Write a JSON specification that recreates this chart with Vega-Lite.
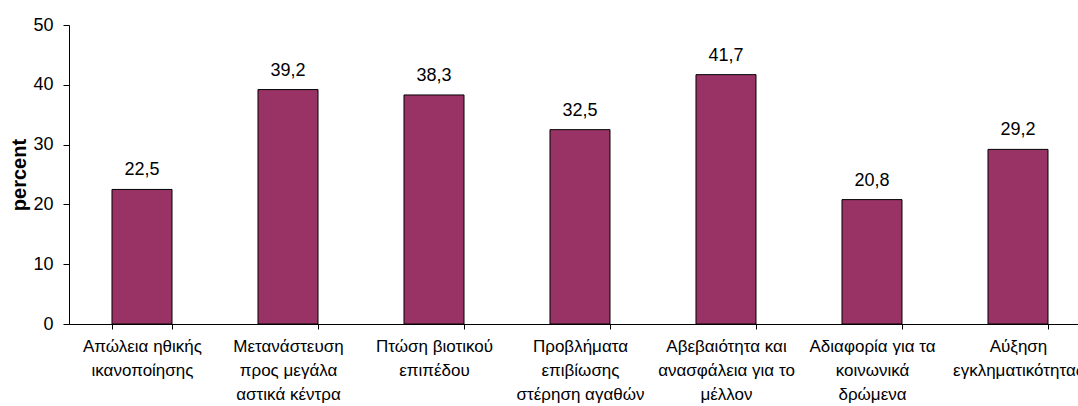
{
  "$schema": "https://vega.github.io/schema/vega-lite/v6.json",
  "autosize": "none",
  "width": 1009,
  "height": 299,
  "padding": {"left": 69, "top": 25, "right": 0, "bottom": 82},
  "background": "white",
  "config": {
    "view": {"stroke": null},
    "font": "Liberation Sans",
    "locale": {"number": {"decimal": ",", "thousands": ".", "grouping": [3], "currency": ["", " €"]}}
  },
  "data": {
    "values": [
      {"category": "Απώλεια ηθικής|ικανοποίησης", "value": 22.5},
      {"category": "Μετανάστευση|προς μεγάλα|αστικά κέντρα", "value": 39.2},
      {"category": "Πτώση βιοτικού|επιπέδου", "value": 38.3},
      {"category": "Προβλήματα|επιβίωσης|στέρηση αγαθών", "value": 32.5},
      {"category": "Αβεβαιότητα και|ανασφάλεια για το|μέλλον", "value": 41.7},
      {"category": "Αδιαφορία για τα|κοινωνικά|δρώμενα", "value": 20.8},
      {"category": "Αύξηση|εγκληματικότητας", "value": 29.2}
    ]
  },
  "encoding": {
    "x": {
      "field": "category",
      "type": "nominal",
      "sort": null,
      "scale": {"paddingInner": 0.589, "paddingOuter": 0.25, "align": 0.589},
      "axis": {
        "title": null,
        "labelAngle": 0,
        "labelExpr": "split(datum.label, '|')",
        "labelFont": "Liberation Sans",
        "labelFontSize": 17,
        "labelLineHeight": 24,
        "labelColor": "black",
        "labelPadding": 9,
        "labelBaseline": "top",
        "labelLimit": 300,
        "tickBand": "extent",
        "tickSize": 5,
        "tickColor": "black",
        "domainColor": "black",
        "labelOverlap": false
      }
    },
    "y": {
      "field": "value",
      "type": "quantitative",
      "scale": {"domain": [0, 50], "nice": false},
      "axis": {
        "title": "percent",
        "values": [0, 10, 20, 30, 40, 50],
        "grid": false,
        "labelFont": "Liberation Sans",
        "labelFontSize": 18,
        "labelColor": "black",
        "labelPadding": 10,
        "tickSize": 6,
        "tickColor": "black",
        "domainColor": "black",
        "titleFont": "Liberation Sans",
        "titleFontSize": 20,
        "titleFontWeight": "bold",
        "titleColor": "black",
        "titleAngle": -90,
        "titleX": -50,
        "titleY": 149.5,
        "titleAlign": "center",
        "titleBaseline": "middle"
      }
    }
  },
  "layer": [
    {
      "mark": {"type": "bar", "fill": "#993366", "stroke": "black", "strokeWidth": 1}
    },
    {
      "mark": {"type": "text", "baseline": "alphabetic", "dy": -14, "font": "Liberation Sans", "fontSize": 18, "color": "black"},
      "encoding": {"text": {"field": "value", "type": "quantitative", "format": ".1f"}}
    }
  ]
}
